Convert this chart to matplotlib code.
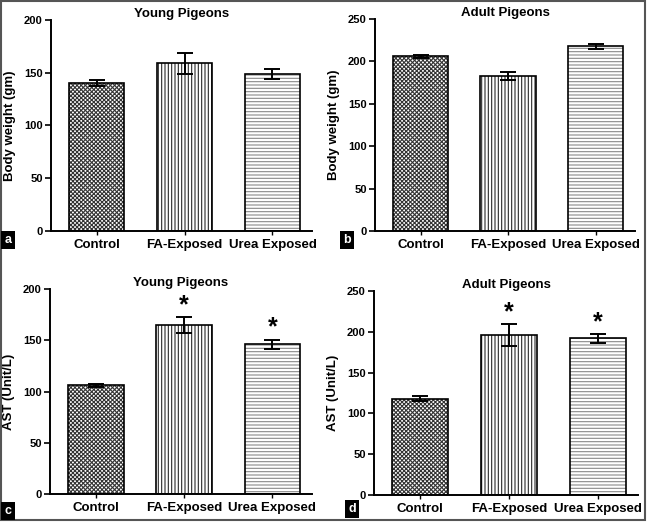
import matplotlib
matplotlib.use("Agg")
import matplotlib.pyplot as plt
from matplotlib.patches import Rectangle

plt.rcParams['font.family'] = ['Liberation Sans', 'DejaVu Sans']
plt.rcParams['font.weight'] = 'bold'
plt.rcParams['hatch.linewidth'] = 0.8

groups = ['Control', 'FA-Exposed', 'Urea Exposed']

# body weight (gm)
bw_young = [140, 159, 149]
bw_young_err = [3, 10, 5]
bw_adult = [206, 183, 218]
bw_adult_err = [2, 5, 3]

# AST (Unit/L)
ast_young = [106, 165, 146]
ast_young_err = [1.5, 7.5, 4.5]
ast_adult = [118, 196, 192]
ast_adult_err = [3, 13, 5.5]
ast_young_sig = ['', '*', '*']
ast_adult_sig = ['', '*', '*']

W, H = 647, 522
fig = plt.figure(figsize=(W / 100, H / 100), dpi=100)

hatches = ['xxxxxxxx', '|||||', '-----']
hatch_cols = ['#333333', '#2a2a2a', '#8a8a8a']


def px_axes(left, right, top, bottom):
    return fig.add_axes([left / W, 1 - bottom / H, (right - left) / W, (bottom - top) / H])


def panel(ax, vals, errs, ymax, title, ylabel, sig=None):
    x = range(len(groups))
    for i in x:
        ax.bar(i, vals[i], width=0.63, color='white', edgecolor=hatch_cols[i],
               hatch=hatches[i], linewidth=0)
        ax.bar(i, vals[i], width=0.63, fill=False, edgecolor='black', linewidth=1.2)
    ax.errorbar(list(x), vals, yerr=errs, fmt='none', ecolor='black',
                elinewidth=1.4, capsize=6, capthick=1.4)
    if sig:
        for i in x:
            if sig[i]:
                ax.text(i, vals[i] + errs[i] + ymax * 0.0, sig[i], ha='center',
                        va='bottom', fontsize=18, fontweight='bold')
    ax.set_xlim(-0.52, 2.45)
    ax.set_ylim(0, ymax)
    ax.set_yticks(range(0, ymax + 1, 50))
    ax.set_xticks(list(x))
    ax.set_xticklabels(groups, fontsize=9.5, fontweight='bold')
    ax.tick_params(axis='y', labelsize=8, length=4, width=1.2, pad=2)
    ax.tick_params(axis='x', length=3, width=1, pad=3)
    for s in ['top', 'right']:
        ax.spines[s].set_visible(False)
    for s in ['left', 'bottom']:
        ax.spines[s].set_linewidth(1.4)
    ax.set_title(title, fontsize=9.5, fontweight='bold', pad=0)
    ax.set_ylabel(ylabel, fontsize=9.5, fontweight='bold', labelpad=6)


ax_a = px_axes(51, 312, 20, 231)
panel(ax_a, bw_young, bw_young_err, 200, 'Young Pigeons', 'Body weight (gm)')
ax_b = px_axes(375, 635, 19, 231)
panel(ax_b, bw_adult, bw_adult_err, 250, 'Adult Pigeons', 'Body weight (gm)')
ax_c = px_axes(50, 312, 289, 494)
panel(ax_c, ast_young, ast_young_err, 200, 'Young Pigeons', 'AST (Unit/L)', ast_young_sig)
ax_d = px_axes(374, 638, 291, 495)
panel(ax_d, ast_adult, ast_adult_err, 250, 'Adult Pigeons', 'AST (Unit/L)', ast_adult_sig)

# panel letters
for lab, xp, yp in [('a', 8, 240), ('b', 347, 240), ('c', 8, 511), ('d', 352, 509)]:
    fig.text(xp / W, 1 - yp / H, lab, color='white', fontsize=9, fontweight='bold',
             ha='center', va='center',
             bbox=dict(boxstyle='square,pad=0.25', facecolor='black', edgecolor='none'))

# outer frame
fig.patches.append(Rectangle((1 / W, 2 / H), (W - 3) / W, (H - 3) / H, fill=False,
                             edgecolor='#555555', linewidth=1.5, transform=fig.transFigure))

fig.savefig('out.png', dpi=100, facecolor='white')
